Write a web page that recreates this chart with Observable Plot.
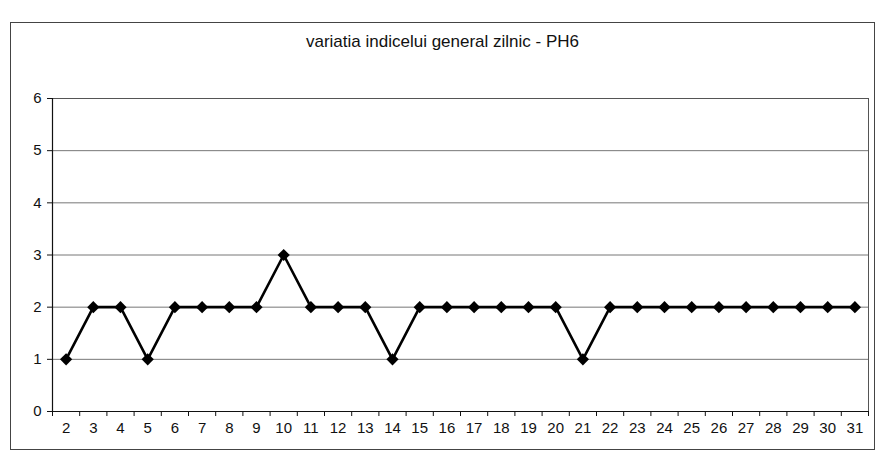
<!DOCTYPE html>
<html>
<head>
<meta charset="utf-8">
<script src="https://cdn.jsdelivr.net/npm/d3@7"></script>
<script src="https://cdn.jsdelivr.net/npm/@observablehq/plot@0.6"></script>
<style>
  html, body { margin: 0; padding: 0; background: #fff; }
  #frame {
    position: absolute; left: 10px; top: 22px; width: 863px; height: 426px;
    border: 1px solid #444; background: #fff;
    font-family: "Liberation Sans", Arial, sans-serif;
  }
  #title {
    height: 38px; padding-top: 9px; text-align: center; font-size: 17px; color: #111;
    box-sizing: border-box;
  }
  #chart svg text { font-size: 15px; }
</style>
</head>
<body>
<div id="frame">
  <div id="title">variatia indicelui general zilnic - PH6</div>
  <div id="chart"></div>
</div>
<script>
const days = [2,3,4,5,6,7,8,9,10,11,12,13,14,15,16,17,18,19,20,21,22,23,24,25,26,27,28,29,30,31];
const values = [1,2,2,1,2,2,2,2,3,2,2,2,1,2,2,2,2,2,2,1,2,2,2,2,2,2,2,2,2,2];
const yTicks = [0,1,2,3,4,5,6];

const data = days.map((d, i) => ({day: d, value: values[i]}));
const boundaries = [days[0] - 0.5, ...days.map(d => d + 0.5)];

const chart = Plot.plot({
  width: 863,
  height: 388,
  marginTop: 37,
  marginBottom: 38,
  marginLeft: 41,
  marginRight: 6,
  style: {fontFamily: "'Liberation Sans', Arial, sans-serif", fontSize: "15px", color: "#111", background: "#fff"},
  x: {domain: [days[0] - 0.5, days[days.length - 1] + 0.5]},
  y: {domain: [0, 6]},
  marks: [
    Plot.gridY(yTicks.filter(t => t > 0), {stroke: "#777", strokeOpacity: 1, strokeWidth: 1}),
    Plot.frame({stroke: "#555", strokeWidth: 1}),
    Plot.axisY({ticks: yTicks, tickSize: 5, tickPadding: 6, tickFormat: d3.format("d"), label: null}),
    Plot.axisX({ticks: boundaries, tickSize: 5, tickFormat: () => "", label: null}),
    Plot.axisX({ticks: days, tickSize: 0, tickPadding: 11, tickFormat: d => String(d), label: null}),
    Plot.ruleY([0], {stroke: "#111", strokeWidth: 1.2}),
    Plot.ruleX([days[0] - 0.5], {stroke: "#111", strokeWidth: 1.2}),
    Plot.line(data, {x: "day", y: "value", stroke: "#000", strokeWidth: 2.6}),
    Plot.dot(data, {x: "day", y: "value", symbol: "diamond2", r: 5.5, fill: "#000", stroke: "none"})
  ]
});
document.getElementById("chart").appendChild(chart);
</script>
</body>
</html>
